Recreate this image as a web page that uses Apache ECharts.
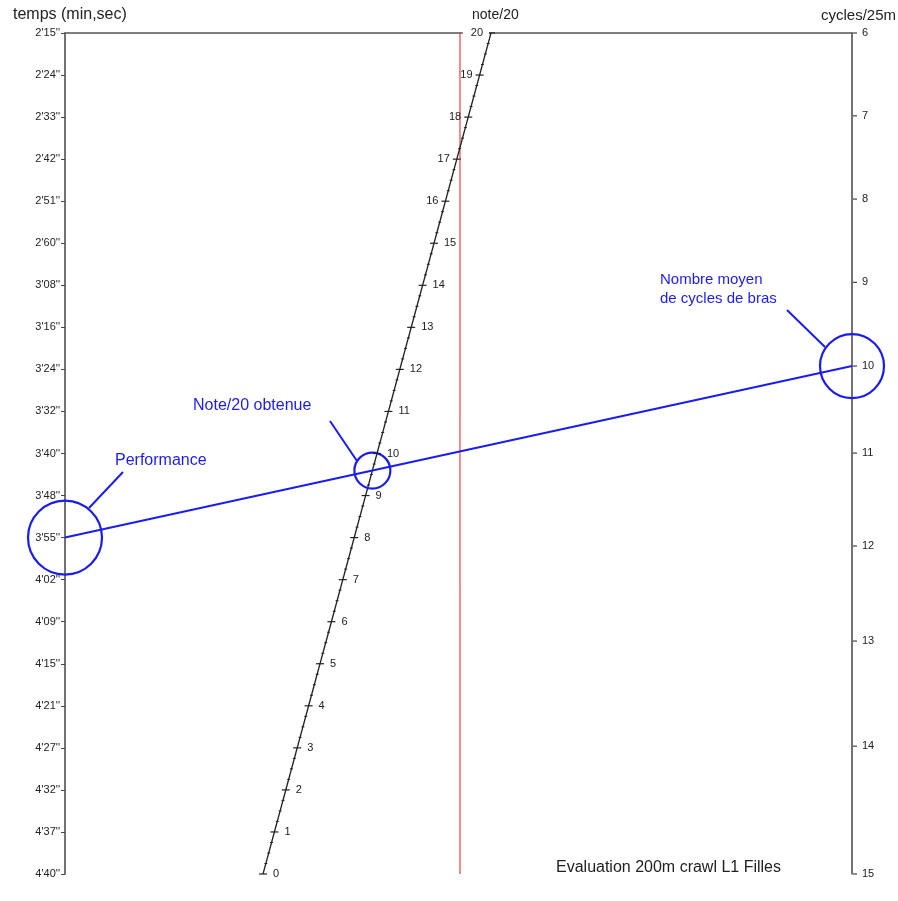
<!DOCTYPE html>
<html><head><meta charset="utf-8">
<script src="https://cdn.jsdelivr.net/npm/echarts@6/dist/echarts.min.js"></script>
<style>html,body{margin:0;padding:0;background:#fff}#c{width:898px;height:901px}</style>
</head><body><div id="c"></div>
<script>
// Left scale: time labels at equally spaced ticks (index 0 at top)
const timeLabels = ["2'15''","2'24''","2'33''","2'42''","2'51''","2'60''","3'08''","3'16''","3'24''","3'32''","3'40''","3'48''","3'55''","4'02''","4'09''","4'15''","4'21''","4'27''","4'32''","4'37''","4'40''"];
// Right scale: cycles/25m and where each sits on the shared vertical scale (time-index units)
const cycleTicks = [6, 7, 8, 9, 10, 11, 12, 13, 14, 15];
const cyclePos   = [0, 1.97, 3.95, 5.93, 7.92, 9.99, 12.2, 14.46, 16.96, 20];
// Middle scale: note/20
const noteTicks = [0,1,2,3,4,5,6,7,8,9,10,11,12,13,14,15,16,17,18,19,20];
const noteMinorStep = 0.25;
// Example reading
const performanceLabel = "3'55''";
const cyclesValue = 10;

// layout constants (fractions of plot width)
const NOTE_X0 = 0.2516, NOTE_X20 = 0.5413, RED_X = 0.5019;
const BLUE = '#1c1cf0';
const AX = '#444';

const noteXY = n => [NOTE_X0 + (NOTE_X20 - NOTE_X0) * n / 20, 20 - n];

const perfY = timeLabels.indexOf(performanceLabel);
const cycY = cyclePos[cycleTicks.indexOf(cyclesValue)];
const slopeB = cycY - perfY;
const a = NOTE_X0, b = NOTE_X20 - NOTE_X0;
const tI = (20 - perfY - slopeB * a) / (slopeB * b + 20);
const cross = [a + b * tI, 20 - 20 * tI];

const majorTicks = noteTicks.map(n => ({
  value: noteXY(n).concat([n]),
  label: n === 20
    ? { position: 'left', distance: -2, backgroundColor: '#fff', padding: [0, 6, 0, 8] }
    : { position: n <= 15 ? 'right' : 'left', distance: n <= 15 ? 6 : 3 }
}));
const minorTicks = [];
for (let v = 0; v < 20 - 1e-9; v += noteMinorStep) {
  if (Math.abs(v - Math.round(v)) > 1e-6) minorTicks.push(noteXY(v));
}

const chart = echarts.init(document.getElementById('c'), null, { renderer: 'canvas' });
const fam = '"Liberation Sans", Arial, sans-serif';
chart.setOption({
  animation: false,
  backgroundColor: '#fff',
  grid: { left: 65, right: 46, top: 33, bottom: 27 },
  xAxis: {
    type: 'value', min: 0, max: 1, position: 'top',
    axisLine: { show: true, lineStyle: { color: '#555', width: 1.5 } },
    axisTick: { show: false }, axisLabel: { show: false }, splitLine: { show: false }
  },
  yAxis: [{
    type: 'value', min: 0, max: 20, interval: 1, inverse: true, position: 'left',
    axisLine: { show: true, lineStyle: { color: AX, width: 1.5 } },
    axisTick: { show: true, length: 4, lineStyle: { color: AX } },
    axisLabel: { formatter: v => timeLabels[v] || '', fontSize: 11, color: '#222', margin: 5, fontFamily: fam },
    splitLine: { show: false }
  }, {
    type: 'value', min: 0, max: 20, inverse: true, position: 'right',
    axisLine: { show: true, lineStyle: { color: AX, width: 1.5 } },
    axisTick: { show: false }, axisLabel: { show: false }, splitLine: { show: false }
  }],
  series: [
    {
      type: 'line', data: [[RED_X, 0], [RED_X, 20]], symbol: 'none',
      lineStyle: { color: '#e41e1e', width: 1 }, z: 1
    },
    {
      type: 'line', data: [noteXY(0), noteXY(20)], symbol: 'none',
      lineStyle: { color: '#222', width: 1.3 }, z: 2
    },
    {
      type: 'scatter', data: minorTicks, symbol: 'rect', symbolSize: [3, 1],
      itemStyle: { color: '#222', opacity: 1 }, z: 3
    },
    {
      type: 'scatter', data: majorTicks, symbol: 'rect', symbolSize: [8, 1.2],
      itemStyle: { color: '#222', opacity: 1 }, z: 6,
      label: { show: true, formatter: p => String(p.value[2]), fontSize: 11, color: '#222', fontFamily: fam }
    },
    {
      type: 'scatter', data: cycleTicks.map((c, i) => [1, cyclePos[i], c]),
      symbol: 'rect', symbolSize: [4, 1.2], symbolOffset: [3, 0],
      itemStyle: { color: AX, opacity: 1 }, z: 3,
      label: { show: true, position: 'right', distance: 5, formatter: p => String(p.value[2]), fontSize: 11, color: '#222', fontFamily: fam }
    },
    {
      type: 'line', data: [[0, perfY], [1, cycY]], symbol: 'none',
      lineStyle: { color: BLUE, width: 2 }, z: 4
    },
    {
      type: 'scatter', z: 5,
      data: [
        { value: [0, perfY], symbolSize: 74 },
        { value: cross, symbolSize: 36 },
        { value: [1, cycY], symbolSize: 64 }
      ],
      symbol: 'circle',
      itemStyle: { color: 'rgba(0,0,0,0)', borderColor: BLUE, borderWidth: 2.2, opacity: 1 }
    }
  ],
  graphic: [
    { type: 'text', left: 13, top: 7, style: { text: 'temps (min,sec)', fontSize: 16, fill: '#222', fontFamily: fam } },
    { type: 'text', left: 472, top: 8, style: { text: 'note/20', fontSize: 14, fill: '#222', fontFamily: fam } },
    { type: 'text', left: 821, top: 8, style: { text: 'cycles/25m', fontSize: 15, fill: '#222', fontFamily: fam } },
    { type: 'text', left: 556, top: 860, style: { text: 'Evaluation 200m crawl L1 Filles', fontSize: 16, fill: '#222', fontFamily: fam } },
    { type: 'text', left: 115, top: 453, style: { text: 'Performance', fontSize: 16, fill: BLUE, fontFamily: fam } },
    { type: 'line', shape: { x1: 123, y1: 472, x2: 89, y2: 508 }, style: { stroke: BLUE, lineWidth: 2 } },
    { type: 'text', left: 193, top: 398, style: { text: 'Note/20 obtenue', fontSize: 16, fill: BLUE, fontFamily: fam } },
    { type: 'line', shape: { x1: 330, y1: 421, x2: 357, y2: 461 }, style: { stroke: BLUE, lineWidth: 2 } },
    { type: 'text', left: 660, top: 270, style: { text: 'Nombre moyen\nde cycles de bras', fontSize: 15, lineHeight: 19, fill: BLUE, fontFamily: fam } },
    { type: 'line', shape: { x1: 787, y1: 310, x2: 825, y2: 347 }, style: { stroke: BLUE, lineWidth: 2 } }
  ]
});
</script></body></html>
